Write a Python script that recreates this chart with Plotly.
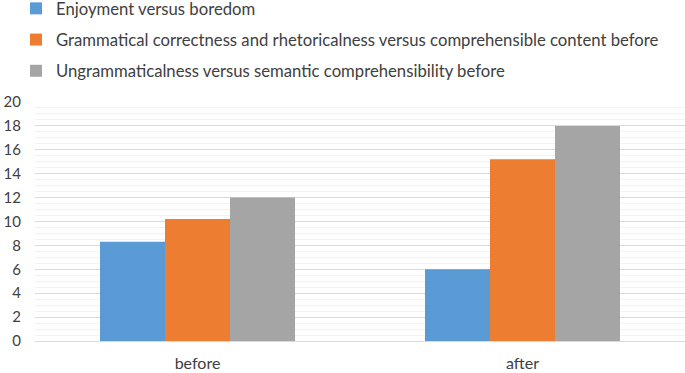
import plotly.graph_objects as go

categories = ["before", "after"]
enjoyment = [8.3, 6.0]
grammatical = [10.2, 15.2]
ungrammatical = [12.0, 18.0]
series_names = [
    "Enjoyment versus boredom",
    "Grammatical correctness and rhetoricalness versus comprehensible content before",
    "Ungrammaticalness versus semantic comprehensibility before",
]
colors = ["#5B9BD5", "#ED7D31", "#A5A5A5"]
y_ticks = [0, 2, 4, 6, 8, 10, 12, 14, 16, 18, 20]

fig = go.Figure()
for i, (name, vals, c) in enumerate(zip(series_names, [enjoyment, grammatical, ungrammatical], colors)):
    fig.add_trace(go.Bar(x=categories, y=vals, name=name, legendgroup=f"g{i}",
                         marker=dict(color=c, line=dict(width=0))))

FONT = "Lato, 'Open Sans', sans-serif"
T, B = 102, 32
PH = 373 - T - B
fig.update_layout(
    width=685, height=373,
    margin=dict(l=35, r=0, t=T, b=B, autoexpand=False),
    paper_bgcolor="white", plot_bgcolor="white",
    barmode="group", bargap=0.4, bargroupgap=0,
    font=dict(family=FONT, size=14, color="#404040"),
    legend=dict(
        x=16 / 685, y=1 + (T + 9) / PH, xref="container", yref="paper", xanchor="left", yanchor="top",
        orientation="v", font=dict(size=16.7, color="#404040"),
        itemwidth=30, tracegroupgap=6.5, bgcolor="rgba(0,0,0,0)",
        traceorder="grouped",
    ),
    showlegend=True,
)
fig.update_yaxes(
    range=[0, 20], tickvals=y_ticks, showgrid=True, gridcolor="#D9D9D9", gridwidth=1,
    zeroline=False, showline=False, ticks="", tickfont=dict(size=15, color="#404040"),
    minor=dict(dtick=0.5, showgrid=True, gridcolor="#F2F2F2", gridwidth=1),
    automargin=False, ticklabelstandoff=13,
)
fig.update_xaxes(
    showline=True, linecolor="#D9D9D9", linewidth=1, ticks="",
    tickfont=dict(size=16, color="#404040"), automargin=False, ticklabelstandoff=8,
)
fig.write_html("out.html", post_script="document.body.style.margin='0';",
               config={"displayModeBar": False})
